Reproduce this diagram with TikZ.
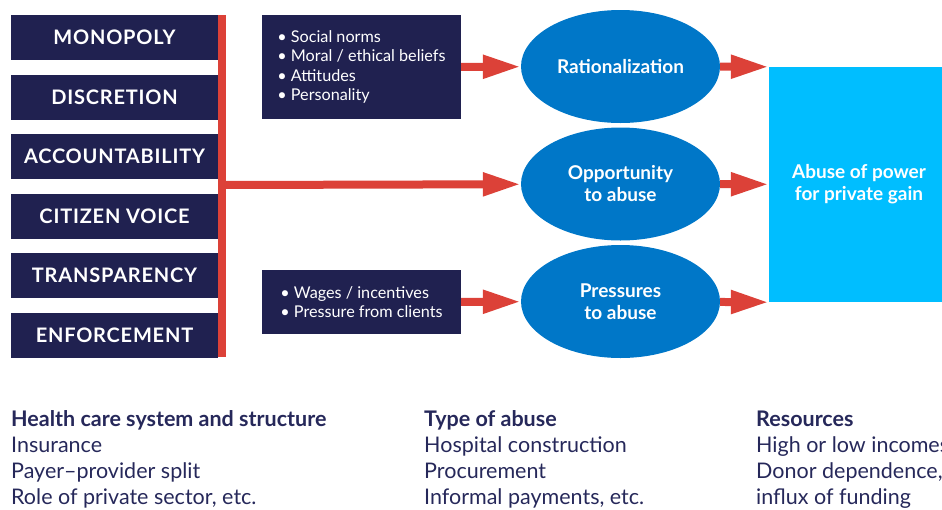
\documentclass[tikz,border=0pt]{standalone}
\usepackage{fontspec}
\setmainfont{Lato}
\usetikzlibrary{arrows.meta,shapes.geometric,positioning}
\definecolor{navy}{RGB}{32,33,80}
\definecolor{barred}{RGB}{220,65,56}
\definecolor{ovalblue}{RGB}{0,119,200}
\definecolor{skyblue}{RGB}{0,190,255}
\definecolor{ink}{RGB}{38,40,90}

\begin{document}
\begin{tikzpicture}[x=1pt, y=-1pt, node distance={59.5pt},
	main/.style={fill=navy, text=white, minimum width=207pt, minimum height=45pt, inner sep=0pt,
		font=\fontsize{20}{22}\selectfont\bfseries\addfontfeatures{LetterSpace=4}},
	list/.style={fill=navy, text=white, minimum width=199pt, inner sep=0pt, align=left,
		font=\fontsize{16.2}{19.5}\selectfont},
	oval/.style={ellipse, fill=ovalblue, text=white, minimum width=199pt, minimum height=113pt,
		inner sep=0pt, align=center, font=\fontsize{19}{22}\selectfont\bfseries},
	bar/.style={draw=barred, line width=8pt},
	arrow/.style={bar, -{Triangle[length=38pt,width=22pt]}},
	body/.style={anchor=base west, inner sep=0pt, text=ink, font=\fontsize{21.5}{24}\selectfont},
	head/.style={body, font=\fontsize{21.5}{24}\selectfont\bfseries}]
		\useasboundingbox (0,0) rectangle (942,509);

		% left column
		\node[main] (1) at (114.5,37.5) {MONOPOLY};
		\node[main] (2) [below of=1] {DISCRETION};
		\node[main] (3) [below of=2] {ACCOUNTABILITY};
		\node[main] (4) [below of=3] {CITIZEN VOICE};
		\node[main] (5) [below of=4] {TRANSPARENCY};
		\node[main] (6) [below of=5] {ENFORCEMENT};

		\coordinate (t) at (222,15);
		\coordinate (u) at (222,357);
		\coordinate (m) at (222,185);
		\draw[bar] (t) -- (u);

		% lists
		\node[list, minimum height=104pt] (l1) at (361.5,67) {\textbullet\ Social norms\\\textbullet\ Moral / ethical beliefs\\\textbullet\ Attitudes\\\textbullet\ Personality};
		\node[list, minimum height=64pt] (l2) at (361.5,302) {\textbullet\ Wages / incentives\\\textbullet\ Pressure from clients};

		% ovals
		\node[oval] (r) at (620.5,66.5) {Rationalization};
		\node[oval] (o) [below of=r, node distance=117.5pt] {Opportunity\\to abuse};
		\node[oval] (p) [below of=o, node distance=117.5pt] {Pressures\\to abuse};

		\node[fill=skyblue, text=white, minimum width=180pt, minimum height=235pt, inner sep=0pt,
			align=center, font=\fontsize{19}{22}\selectfont\bfseries] (g) at (859,184.5) {Abuse of power\\for private gain};

		\draw[arrow] (l1) to (r);
		\draw[arrow] (m) to (o);
		\draw[arrow] (l2) to (p);
		\draw[arrow] (r) to (g.north west);
		\draw[arrow] (o) to (g);
		\draw[arrow] (p) to (g.south west);

		% bottom text
		\node[head] (h1) at (11,426) {Health care system and structure};
		\node[head] (h2) at (424,426) {Type of abuse};
		\node[head] (h3) at (756,426) {Resources};
		\foreach \txt [count=\i] in {Insurance, Payer–provider split, {Role of private sector, etc.}}
			\node[body] (a\i) at (11,{426+26*\i}) {\txt};
		\foreach \txt [count=\i] in {Hospital construction, Procurement, {Informal payments, etc.}}
			\node[body] (b\i) at (424,{426+26*\i}) {\txt};
		\foreach \txt [count=\i] in {High or low incomes, {Donor dependence,}, influx of funding}
			\node[body] (c\i) at (756,{426+26*\i}) {\txt};
	\end{tikzpicture}
\end{document}
